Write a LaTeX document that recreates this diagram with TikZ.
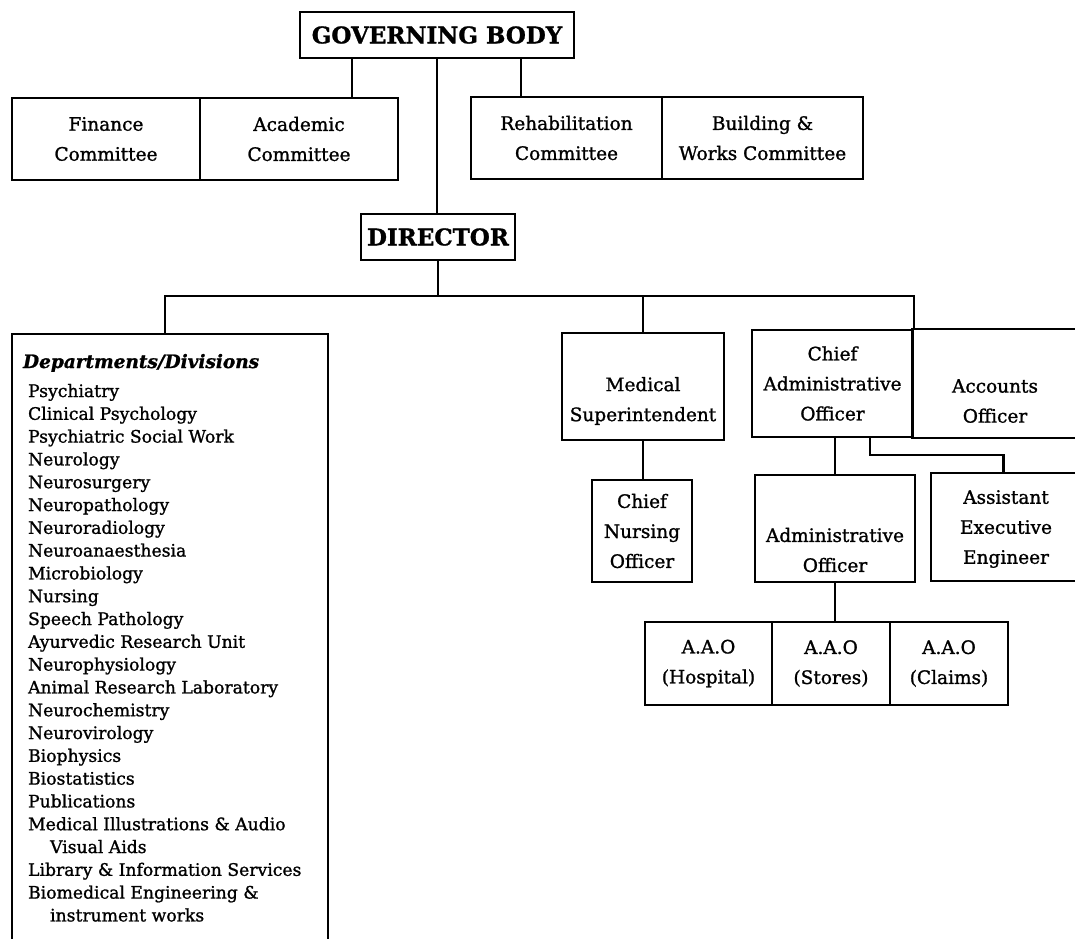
\documentclass[tikz,border=0pt]{standalone}
\usepackage{fontspec}
\setmainfont{DejaVu Serif}[FakeBold=1.2]
\begin{document}
\begin{tikzpicture}[x=1pt,y=-1pt,line width=2.2pt,
  box/.style={draw,rectangle,inner sep=0pt,align=center,font=\fontsize{18.5}{30}\selectfont},
  openbox/.style={rectangle,inner sep=0pt,align=center,font=\fontsize{18.5}{30}\selectfont},
  bigbox/.style={draw,rectangle,inner sep=0pt,font=\bfseries\fontsize{23}{26}\selectfont},
  txt/.style={inner sep=0pt,align=center,font=\fontsize{18.5}{30}\selectfont},
  lst/.style={anchor=base west,inner sep=0pt,font=\fontsize{17.2}{20}\selectfont},
  wire/.style={line width=2.2pt}]
\useasboundingbox (0,0) rectangle (1075,938);

% top level
\node[bigbox,minimum width=274pt,minimum height=46pt] (gb) at (437,35) {GOVERNING BODY};
\node[box,minimum width=188pt,minimum height=82pt] (fin) at (106,139) {Finance\\Committee};
\node[box,minimum width=198pt,minimum height=82pt] (acad) at (299,139) {Academic\\Committee};
\node[box,minimum width=191pt,minimum height=82pt] (rehab) at (566.5,138) {Rehabilitation\\Committee};
\node[box,minimum width=201pt,minimum height=82pt] (bw) at (762.5,138) {Building \&\\Works Committee};
\node[bigbox,minimum width=154pt,minimum height=46pt] (dir) at (438,237) {DIRECTOR};

% departments box (open at the bottom)
\node[rectangle,inner sep=0pt,minimum width=314pt,minimum height=603pt] (dept) at (170,636.5) {};
\draw (dept.south west) -- (dept.north west) -- (dept.north east) -- (dept.south east);
\node[anchor=base west,inner sep=0pt,font=\bfseries\itshape\fontsize{18.5}{20}\selectfont] (depth) at (22,368) {Departments/Divisions};
\foreach \t [count=\i from 0] in {Psychiatry,Clinical Psychology,Psychiatric Social Work,Neurology,Neurosurgery,Neuropathology,Neuroradiology,Neuroanaesthesia,Microbiology,Nursing,Speech Pathology,Ayurvedic Research Unit,Neurophysiology,Animal Research Laboratory,Neurochemistry,Neurovirology,Biophysics,Biostatistics,Publications,Medical Illustrations \& Audio,\hspace*{22pt}Visual Aids,Library \& Information Services,Biomedical Engineering \&,\hspace*{22pt}instrument works}
  \node[lst] (d\i) at (27,{397+22.8*\i}) {\t};

% right side
\node[box,minimum width=162pt,minimum height=107pt] (ms) at (643,386.5) {};
\node[txt] (mst) at (643,401) {Medical\\Superintendent};
\node[box,minimum width=161pt,minimum height=107pt] (cao) at (832.5,383.5) {Chief\\Administrative\\Officer};
\node[openbox,minimum width=162pt,minimum height=107pt] (acc) at (994,383.5) {};
\draw (acc.north east) -- (acc.north west) -- (acc.south west) -- (acc.south east);
\node[txt] (acct) at (995,401) {Accounts\\Officer};
\node[box,minimum width=100pt,minimum height=102pt] (cno) at (642,531) {Chief\\Nursing\\Officer};
\node[box,minimum width=160pt,minimum height=107pt] (ao) at (835,528.5) {};
\node[txt] (aot) at (835,550) {Administrative\\Officer};
\node[openbox,minimum width=143pt,minimum height=106pt] (aee) at (1003.5,527) {};
\draw (aee.north east) -- (aee.north west) -- (aee.south west) -- (aee.south east);
\node[txt] (aeet) at (1006,529) {Assistant\\Executive\\Engineer};
\node[box,minimum width=127pt,minimum height=83pt] (aao1) at (708.5,663.5) {A.A.O\\(Hospital)};
\node[box,minimum width=118pt,minimum height=83pt] (aao2) at (831,663.5) {A.A.O\\(Stores)};
\node[box,minimum width=118pt,minimum height=83pt] (aao3) at (949,663.5) {A.A.O\\(Claims)};

% helper coordinates
\coordinate (xl) at (352,0);
\coordinate (xr) at (521,0);
\coordinate (bus) at (0,296);
\coordinate (xd) at (165,0);
\coordinate (xe) at (870,0);
\coordinate (ye) at (0,455);

% connectors
\draw[wire] (gb.south -| xl) -- (acad.north -| xl);
\draw[wire] (gb.south -| xr) -- (rehab.north -| xr);
\draw[wire] (gb.south) -- (gb.south |- dir.north);
\draw[wire] (dir.south) -- (dir.south |- bus);
\draw[wire] (dept.north -| xd) |- (bus -| cao.north east) -- (cao.north east);
\draw[wire] (ms.north) -- (ms.north |- bus);
\draw[wire] (ms.south) -- (ms.south |- cno.north);
\draw[wire] (ao.north |- cao.south) -- (ao.north);
\draw[wire] (cao.south -| xe) |- (aee.north |- ye) -- (aee.north);
\draw[wire] (ao.south) -- (ao.south |- aao2.north);
\end{tikzpicture}
\end{document}
